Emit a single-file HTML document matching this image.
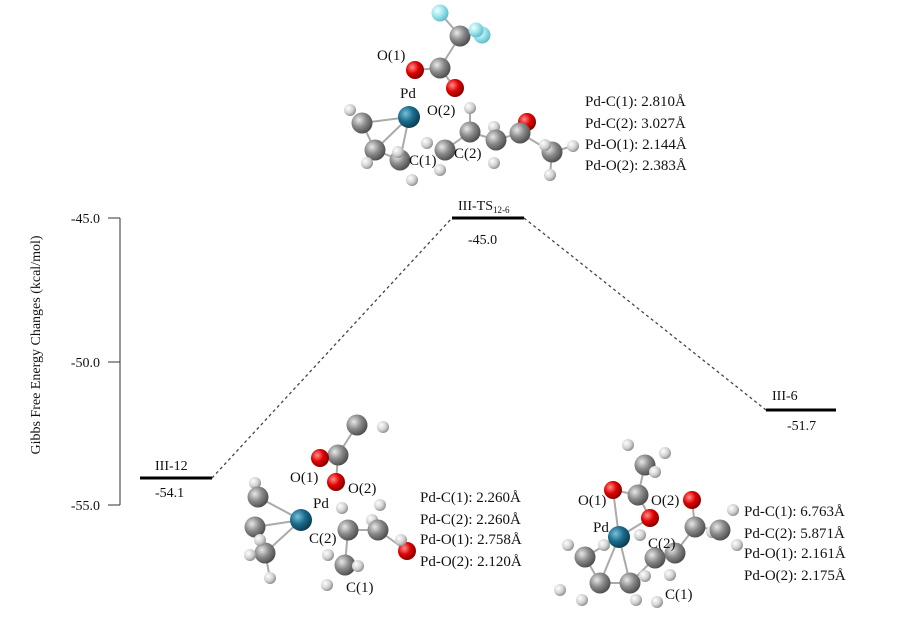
<!DOCTYPE html>
<html><head><meta charset="utf-8"><style>
html,body{margin:0;padding:0;background:#fff;}
svg{display:block;}
text{font-family:"Liberation Serif",serif;fill:#111;}
</style></head><body>
<svg width="902" height="617" viewBox="0 0 902 617" xmlns="http://www.w3.org/2000/svg">
<defs>
<radialGradient id="gC" cx="35%" cy="35%" r="70%"><stop offset="0" stop-color="#e8e8e8"/><stop offset="0.5" stop-color="#8a8a8a"/><stop offset="1" stop-color="#4a4a4a"/></radialGradient>
<radialGradient id="gH" cx="35%" cy="35%" r="70%"><stop offset="0" stop-color="#ffffff"/><stop offset="0.6" stop-color="#d0d0d0"/><stop offset="1" stop-color="#8a8a8a"/></radialGradient>
<radialGradient id="gO" cx="35%" cy="35%" r="70%"><stop offset="0" stop-color="#ff9090"/><stop offset="0.5" stop-color="#e00000"/><stop offset="1" stop-color="#800000"/></radialGradient>
<radialGradient id="gF" cx="35%" cy="35%" r="70%"><stop offset="0" stop-color="#f0ffff"/><stop offset="0.5" stop-color="#9ee6ee"/><stop offset="1" stop-color="#5fb8c4"/></radialGradient>
<radialGradient id="gP" cx="35%" cy="35%" r="70%"><stop offset="0" stop-color="#7ac0d8"/><stop offset="0.5" stop-color="#1a6c8c"/><stop offset="1" stop-color="#0a3a4c"/></radialGradient>
</defs>

<line x1="120" y1="218" x2="120" y2="505" stroke="#333" stroke-width="1"/>
<line x1="108" y1="218" x2="120" y2="218" stroke="#333"/>
<line x1="108" y1="362" x2="120" y2="362" stroke="#333"/>
<line x1="108" y1="505" x2="120" y2="505" stroke="#333"/>
<text x="100" y="223" font-size="14" text-anchor="end">-45.0</text>
<text x="100" y="367" font-size="14" text-anchor="end">-50.0</text>
<text x="100" y="510" font-size="14" text-anchor="end">-55.0</text>
<text transform="translate(40,345) rotate(-90)" font-size="14" text-anchor="middle">Gibbs Free Energy Changes (kcal/mol)</text>

<line x1="140" y1="478" x2="212" y2="478" stroke="#000" stroke-width="3"/>
<line x1="452" y1="218" x2="524" y2="218" stroke="#000" stroke-width="3"/>
<line x1="766" y1="410" x2="836" y2="410" stroke="#000" stroke-width="3"/>
<line x1="212" y1="478" x2="452" y2="218" stroke="#444" stroke-width="1.3" stroke-dasharray="3,3"/>
<line x1="524" y1="218" x2="766" y2="410" stroke="#444" stroke-width="1.3" stroke-dasharray="3,3"/>
<text x="155" y="470" font-size="14">III-12</text>
<text x="155" y="497" font-size="14">-54.1</text>
<text x="458" y="210" font-size="14">III-TS<tspan font-size="9" dy="3">12-6</tspan></text>
<text x="468" y="244" font-size="14">-45.0</text>
<text x="772" y="400" font-size="14">III-6</text>
<text x="787" y="430" font-size="14">-51.7</text>

<g stroke="#aaa" stroke-width="2">
<line x1="440" y1="13" x2="460" y2="36"/><line x1="476" y1="33" x2="460" y2="36"/><line x1="460" y1="36" x2="440" y2="68"/>
<line x1="440" y1="68" x2="415" y2="70"/><line x1="440" y1="68" x2="455" y2="88"/>
<line x1="409" y1="117" x2="362" y2="123"/><line x1="409" y1="117" x2="375" y2="150"/><line x1="409" y1="117" x2="400" y2="160"/>
<line x1="362" y1="123" x2="375" y2="150"/><line x1="375" y1="150" x2="400" y2="160"/>
<line x1="445" y1="150" x2="470" y2="132"/><line x1="470" y1="132" x2="496" y2="140"/><line x1="496" y1="140" x2="520" y2="133"/><line x1="520" y1="133" x2="552" y2="152"/>
<line x1="470" y1="132" x2="470" y2="108"/><line x1="552" y1="152" x2="573" y2="146"/><line x1="552" y1="152" x2="550" y2="175"/>
</g>
<g>
<circle cx="350" cy="110" r="6" fill="url(#gH)"/>
<circle cx="362" cy="123" r="10.5" fill="url(#gC)"/>
<circle cx="375" cy="150" r="10.5" fill="url(#gC)"/>
<circle cx="367" cy="163" r="6" fill="url(#gH)"/>
<circle cx="400" cy="160" r="10.5" fill="url(#gC)"/>
<circle cx="398" cy="152" r="6" fill="url(#gH)"/>
<circle cx="412" cy="180" r="6" fill="url(#gH)"/>
<circle cx="409" cy="117" r="11" fill="url(#gP)"/>
<circle cx="460" cy="36" r="10.5" fill="url(#gC)"/>
<circle cx="440" cy="13" r="8.5" fill="url(#gF)"/>
<circle cx="482" cy="35" r="8.5" fill="url(#gF)"/>
<circle cx="476" cy="30" r="7.5" fill="url(#gF)"/>
<circle cx="440" cy="68" r="10.5" fill="url(#gC)"/>
<circle cx="415" cy="70" r="9" fill="url(#gO)"/>
<circle cx="455" cy="88" r="9" fill="url(#gO)"/>
<circle cx="427" cy="143" r="6" fill="url(#gH)"/>
<circle cx="440" cy="170" r="6" fill="url(#gH)"/>
<circle cx="445" cy="150" r="10.5" fill="url(#gC)"/>
<circle cx="470" cy="108" r="6" fill="url(#gH)"/>
<circle cx="470" cy="132" r="10.5" fill="url(#gC)"/>
<circle cx="494" cy="127" r="6" fill="url(#gH)"/>
<circle cx="494" cy="163" r="6" fill="url(#gH)"/>
<circle cx="496" cy="140" r="10.5" fill="url(#gC)"/>
<circle cx="527" cy="122" r="9" fill="url(#gO)"/>
<circle cx="520" cy="133" r="10.5" fill="url(#gC)"/>
<circle cx="573" cy="146" r="6" fill="url(#gH)"/>
<circle cx="550" cy="175" r="6" fill="url(#gH)"/>
<circle cx="552" cy="152" r="10.5" fill="url(#gC)"/>
<circle cx="545" cy="145" r="6" fill="url(#gH)"/>
</g>
<text x="377" y="60" font-size="15">O(1)</text>
<text x="400" y="98" font-size="15">Pd</text>
<text x="427" y="115" font-size="15">O(2)</text>
<text x="409" y="165" font-size="15">C(1)</text>
<text x="454" y="158" font-size="15">C(2)</text>
<text x="585" y="106" font-size="15">Pd-C(1): 2.810Å</text>
<text x="585" y="128" font-size="15">Pd-C(2): 3.027Å</text>
<text x="585" y="149" font-size="15">Pd-O(1): 2.144Å</text>
<text x="585" y="170" font-size="15">Pd-O(2): 2.383Å</text>

<g stroke="#aaa" stroke-width="2">
<line x1="357" y1="425" x2="338" y2="455"/><line x1="338" y1="455" x2="320" y2="458"/><line x1="338" y1="455" x2="336" y2="482"/>
<line x1="301" y1="520" x2="258" y2="497"/><line x1="301" y1="520" x2="255" y2="527"/><line x1="301" y1="520" x2="265" y2="553"/>
<line x1="265" y1="553" x2="270" y2="578"/><line x1="348" y1="530" x2="378" y2="530"/><line x1="378" y1="530" x2="407" y2="551"/>
<line x1="348" y1="530" x2="345" y2="565"/>
</g>
<circle cx="383" cy="427" r="6" fill="url(#gH)"/>
<circle cx="357" cy="425" r="10.5" fill="url(#gC)"/>
<circle cx="338" cy="455" r="10.5" fill="url(#gC)"/>
<circle cx="320" cy="458" r="9" fill="url(#gO)"/>
<circle cx="336" cy="482" r="9" fill="url(#gO)"/>
<circle cx="255" cy="483" r="6" fill="url(#gH)"/>
<circle cx="258" cy="497" r="10.5" fill="url(#gC)"/>
<circle cx="255" cy="527" r="10.5" fill="url(#gC)"/>
<circle cx="265" cy="553" r="10.5" fill="url(#gC)"/>
<circle cx="260" cy="540" r="6" fill="url(#gH)"/>
<circle cx="250" cy="555" r="6" fill="url(#gH)"/>
<circle cx="270" cy="578" r="6" fill="url(#gH)"/>
<circle cx="301" cy="520" r="11" fill="url(#gP)"/>
<circle cx="342" cy="508" r="6" fill="url(#gH)"/>
<circle cx="380" cy="505" r="6" fill="url(#gH)"/>
<circle cx="328" cy="555" r="6" fill="url(#gH)"/>
<circle cx="348" cy="530" r="10.5" fill="url(#gC)"/>
<circle cx="372" cy="520" r="6" fill="url(#gH)"/>
<circle cx="378" cy="530" r="10.5" fill="url(#gC)"/>
<circle cx="407" cy="551" r="9" fill="url(#gO)"/>
<circle cx="401" cy="540" r="6" fill="url(#gH)"/>
<circle cx="345" cy="565" r="10.5" fill="url(#gC)"/>
<circle cx="358" cy="566" r="6" fill="url(#gH)"/>
<circle cx="327" cy="585" r="6" fill="url(#gH)"/>
<text x="290" y="482" font-size="15">O(1)</text>
<text x="348" y="493" font-size="15">O(2)</text>
<text x="313" y="508" font-size="15">Pd</text>
<text x="309" y="543" font-size="15">C(2)</text>
<text x="346" y="592" font-size="15">C(1)</text>
<text x="420" y="502" font-size="15">Pd-C(1): 2.260Å</text>
<text x="420" y="524" font-size="15">Pd-C(2): 2.260Å</text>
<text x="420" y="544" font-size="15">Pd-O(1): 2.758Å</text>
<text x="420" y="566" font-size="15">Pd-O(2): 2.120Å</text>

<g stroke="#aaa" stroke-width="2">
<line x1="645" y1="465" x2="638" y2="495"/><line x1="638" y1="495" x2="613" y2="490"/><line x1="638" y1="495" x2="650" y2="518"/>
<line x1="613" y1="490" x2="619" y2="537"/><line x1="650" y1="518" x2="619" y2="537"/>
<line x1="619" y1="537" x2="585" y2="557"/><line x1="619" y1="537" x2="600" y2="583"/><line x1="619" y1="537" x2="630" y2="583"/>
<line x1="585" y1="557" x2="600" y2="583"/><line x1="600" y1="583" x2="630" y2="583"/><line x1="630" y1="583" x2="655" y2="558"/>
<line x1="655" y1="558" x2="675" y2="553"/><line x1="675" y1="553" x2="695" y2="527"/><line x1="695" y1="527" x2="692" y2="500"/><line x1="695" y1="527" x2="720" y2="530"/>
</g>
<circle cx="628" cy="445" r="6" fill="url(#gH)"/>
<circle cx="665" cy="453" r="6" fill="url(#gH)"/>
<circle cx="645" cy="465" r="10.5" fill="url(#gC)"/>
<circle cx="655" cy="472" r="6" fill="url(#gH)"/>
<circle cx="638" cy="495" r="10.5" fill="url(#gC)"/>
<circle cx="613" cy="490" r="9" fill="url(#gO)"/>
<circle cx="650" cy="518" r="9" fill="url(#gO)"/>
<circle cx="692" cy="500" r="9" fill="url(#gO)"/>
<circle cx="733" cy="510" r="6" fill="url(#gH)"/>
<circle cx="695" cy="527" r="10.5" fill="url(#gC)"/>
<circle cx="712" cy="532" r="6" fill="url(#gH)"/>
<circle cx="720" cy="530" r="10.5" fill="url(#gC)"/>
<circle cx="737" cy="545" r="6" fill="url(#gH)"/>
<circle cx="640" cy="535" r="6" fill="url(#gH)"/>
<circle cx="568" cy="545" r="6" fill="url(#gH)"/>
<circle cx="585" cy="557" r="10.5" fill="url(#gC)"/>
<circle cx="560" cy="590" r="6" fill="url(#gH)"/>
<circle cx="600" cy="583" r="10.5" fill="url(#gC)"/>
<circle cx="630" cy="583" r="10.5" fill="url(#gC)"/>
<circle cx="655" cy="558" r="10.5" fill="url(#gC)"/>
<circle cx="675" cy="553" r="10.5" fill="url(#gC)"/>
<circle cx="670" cy="575" r="6" fill="url(#gH)"/>
<circle cx="645" cy="576" r="6" fill="url(#gH)"/>
<circle cx="582" cy="600" r="6" fill="url(#gH)"/>
<circle cx="636" cy="600" r="6" fill="url(#gH)"/>
<circle cx="657" cy="602" r="6" fill="url(#gH)"/>
<circle cx="604" cy="545" r="6" fill="url(#gH)"/>
<circle cx="619" cy="537" r="11" fill="url(#gP)"/>
<text x="578" y="505" font-size="15">O(1)</text>
<text x="651" y="505" font-size="15">O(2)</text>
<text x="593" y="532" font-size="15">Pd</text>
<text x="648" y="548" font-size="15">C(2)</text>
<text x="665" y="599" font-size="15">C(1)</text>
<text x="744" y="516" font-size="15">Pd-C(1): 6.763Å</text>
<text x="744" y="538" font-size="15">Pd-C(2): 5.871Å</text>
<text x="744" y="558" font-size="15">Pd-O(1): 2.161Å</text>
<text x="744" y="580" font-size="15">Pd-O(2): 2.175Å</text>
</svg>
</body></html>
